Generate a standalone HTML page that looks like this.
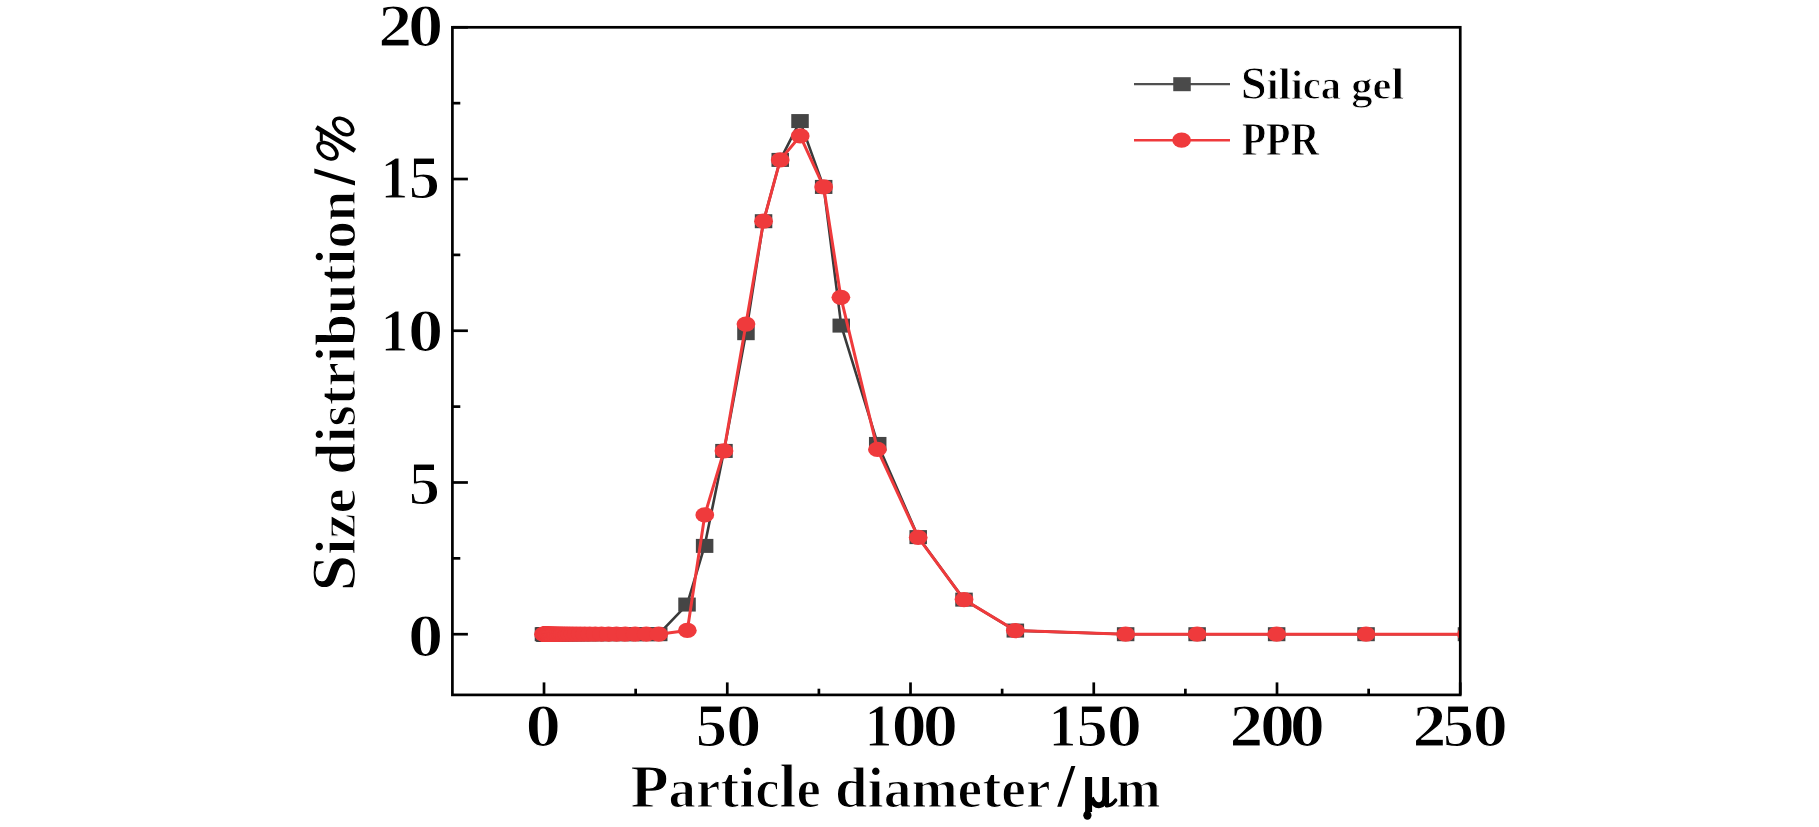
<!DOCTYPE html><html><head><meta charset="utf-8"><title>Size distribution</title><style>html,body{margin:0;padding:0;background:#fff;width:1819px;height:827px;overflow:hidden}svg{display:block}text{font-family:"Liberation Serif",serif;font-weight:bold;fill:#000;stroke-linejoin:round}</style></head><body>
<svg width="1819" height="827" viewBox="0 0 1819 827">
<rect width="1819" height="827" fill="#fff"/>
<defs><clipPath id="c"><rect x="452.40" y="27.30" width="1007.85" height="667.60"/></clipPath></defs>
<g clip-path="url(#c)">
<polyline points="543.47,634.21 544.54,634.21 544.60,634.21 544.67,634.21 544.75,634.21 544.84,634.21 544.93,634.21 545.05,634.21 545.17,634.21 545.31,634.21 545.47,634.21 545.64,634.21 545.84,634.21 546.06,634.21 546.31,634.21 546.59,634.21 546.91,634.21 547.26,634.21 547.65,634.21 548.09,634.21 548.59,634.21 549.15,634.21 549.77,634.21 550.48,634.21 551.26,634.21 552.15,634.21 553.14,634.21 554.25,634.21 555.50,634.21 556.90,634.21 558.47,634.21 560.23,634.21 562.21,634.21 564.43,634.21 566.92,634.21 569.71,634.21 572.84,634.21 576.36,634.21 580.30,634.21 584.73,634.21 589.70,634.21 595.27,634.21 601.52,634.21 608.54,634.21 616.41,634.21 625.24,634.21 635.14,634.21 646.26,634.21 658.73,634.21 687.03,604.56 704.62,545.90 723.97,450.92 745.96,333.18 763.55,221.21 780.23,159.91 800.02,121.07 823.66,186.92 841.25,325.60 877.71,443.94 918.21,537.10 964.02,599.62 1015.33,630.57 1125.64,634.21 1197.11,634.21 1276.64,634.21 1366.06,634.21 1466.48,634.21" fill="none" stroke="#3a3a3a" stroke-width="2.6" stroke-linejoin="round"/>
<rect x="534.72" y="627.21" width="17.5" height="14.0" fill="#454545"/>
<rect x="535.79" y="627.21" width="17.5" height="14.0" fill="#454545"/>
<rect x="535.85" y="627.21" width="17.5" height="14.0" fill="#454545"/>
<rect x="535.92" y="627.21" width="17.5" height="14.0" fill="#454545"/>
<rect x="536.00" y="627.21" width="17.5" height="14.0" fill="#454545"/>
<rect x="536.09" y="627.21" width="17.5" height="14.0" fill="#454545"/>
<rect x="536.18" y="627.21" width="17.5" height="14.0" fill="#454545"/>
<rect x="536.30" y="627.21" width="17.5" height="14.0" fill="#454545"/>
<rect x="536.42" y="627.21" width="17.5" height="14.0" fill="#454545"/>
<rect x="536.56" y="627.21" width="17.5" height="14.0" fill="#454545"/>
<rect x="536.72" y="627.21" width="17.5" height="14.0" fill="#454545"/>
<rect x="536.89" y="627.21" width="17.5" height="14.0" fill="#454545"/>
<rect x="537.09" y="627.21" width="17.5" height="14.0" fill="#454545"/>
<rect x="537.31" y="627.21" width="17.5" height="14.0" fill="#454545"/>
<rect x="537.56" y="627.21" width="17.5" height="14.0" fill="#454545"/>
<rect x="537.84" y="627.21" width="17.5" height="14.0" fill="#454545"/>
<rect x="538.16" y="627.21" width="17.5" height="14.0" fill="#454545"/>
<rect x="538.51" y="627.21" width="17.5" height="14.0" fill="#454545"/>
<rect x="538.90" y="627.21" width="17.5" height="14.0" fill="#454545"/>
<rect x="539.34" y="627.21" width="17.5" height="14.0" fill="#454545"/>
<rect x="539.84" y="627.21" width="17.5" height="14.0" fill="#454545"/>
<rect x="540.40" y="627.21" width="17.5" height="14.0" fill="#454545"/>
<rect x="541.02" y="627.21" width="17.5" height="14.0" fill="#454545"/>
<rect x="541.73" y="627.21" width="17.5" height="14.0" fill="#454545"/>
<rect x="542.51" y="627.21" width="17.5" height="14.0" fill="#454545"/>
<rect x="543.40" y="627.21" width="17.5" height="14.0" fill="#454545"/>
<rect x="544.39" y="627.21" width="17.5" height="14.0" fill="#454545"/>
<rect x="545.50" y="627.21" width="17.5" height="14.0" fill="#454545"/>
<rect x="546.75" y="627.21" width="17.5" height="14.0" fill="#454545"/>
<rect x="548.15" y="627.21" width="17.5" height="14.0" fill="#454545"/>
<rect x="549.72" y="627.21" width="17.5" height="14.0" fill="#454545"/>
<rect x="551.48" y="627.21" width="17.5" height="14.0" fill="#454545"/>
<rect x="553.46" y="627.21" width="17.5" height="14.0" fill="#454545"/>
<rect x="555.68" y="627.21" width="17.5" height="14.0" fill="#454545"/>
<rect x="558.17" y="627.21" width="17.5" height="14.0" fill="#454545"/>
<rect x="560.96" y="627.21" width="17.5" height="14.0" fill="#454545"/>
<rect x="564.09" y="627.21" width="17.5" height="14.0" fill="#454545"/>
<rect x="567.61" y="627.21" width="17.5" height="14.0" fill="#454545"/>
<rect x="571.55" y="627.21" width="17.5" height="14.0" fill="#454545"/>
<rect x="575.98" y="627.21" width="17.5" height="14.0" fill="#454545"/>
<rect x="580.95" y="627.21" width="17.5" height="14.0" fill="#454545"/>
<rect x="586.52" y="627.21" width="17.5" height="14.0" fill="#454545"/>
<rect x="592.77" y="627.21" width="17.5" height="14.0" fill="#454545"/>
<rect x="599.79" y="627.21" width="17.5" height="14.0" fill="#454545"/>
<rect x="607.66" y="627.21" width="17.5" height="14.0" fill="#454545"/>
<rect x="616.49" y="627.21" width="17.5" height="14.0" fill="#454545"/>
<rect x="626.39" y="627.21" width="17.5" height="14.0" fill="#454545"/>
<rect x="637.51" y="627.21" width="17.5" height="14.0" fill="#454545"/>
<rect x="649.98" y="627.21" width="17.5" height="14.0" fill="#454545"/>
<rect x="678.28" y="597.56" width="17.5" height="14.0" fill="#454545"/>
<rect x="695.87" y="538.90" width="17.5" height="14.0" fill="#454545"/>
<rect x="715.22" y="443.92" width="17.5" height="14.0" fill="#454545"/>
<rect x="737.21" y="326.18" width="17.5" height="14.0" fill="#454545"/>
<rect x="754.80" y="214.21" width="17.5" height="14.0" fill="#454545"/>
<rect x="771.48" y="152.91" width="17.5" height="14.0" fill="#454545"/>
<rect x="791.27" y="114.07" width="17.5" height="14.0" fill="#454545"/>
<rect x="814.91" y="179.92" width="17.5" height="14.0" fill="#454545"/>
<rect x="832.50" y="318.60" width="17.5" height="14.0" fill="#454545"/>
<rect x="868.96" y="436.94" width="17.5" height="14.0" fill="#454545"/>
<rect x="909.46" y="530.10" width="17.5" height="14.0" fill="#454545"/>
<rect x="955.27" y="592.62" width="17.5" height="14.0" fill="#454545"/>
<rect x="1006.58" y="623.57" width="17.5" height="14.0" fill="#454545"/>
<rect x="1116.89" y="627.21" width="17.5" height="14.0" fill="#454545"/>
<rect x="1188.36" y="627.21" width="17.5" height="14.0" fill="#454545"/>
<rect x="1267.89" y="627.21" width="17.5" height="14.0" fill="#454545"/>
<rect x="1357.31" y="627.21" width="17.5" height="14.0" fill="#454545"/>
<rect x="1457.73" y="627.21" width="17.5" height="14.0" fill="#454545"/>
<polyline points="543.47,634.21 544.54,634.21 544.60,634.21 544.67,634.21 544.75,634.21 544.84,634.21 544.93,634.21 545.05,634.21 545.17,634.21 545.31,634.21 545.47,634.21 545.64,634.21 545.84,634.21 546.06,634.21 546.31,634.21 546.59,634.21 546.91,634.21 547.26,634.21 547.65,634.21 548.09,634.21 548.59,634.21 549.15,634.21 549.77,634.21 550.48,634.21 551.26,634.21 552.15,634.21 553.14,634.21 554.25,634.21 555.50,634.21 556.90,634.21 558.47,634.21 560.23,634.21 562.21,634.21 564.43,634.21 566.92,634.21 569.71,634.21 572.84,634.21 576.36,634.21 580.30,634.21 584.73,634.21 589.70,634.21 595.27,634.21 601.52,634.21 608.54,634.21 616.41,634.21 625.24,634.21 635.14,634.21 646.26,634.21 658.73,634.21 687.32,630.42 704.80,514.95 723.97,450.92 745.96,324.08 763.55,221.21 780.23,159.91 800.20,135.94 823.66,186.92 840.88,297.37 877.42,449.41 918.21,537.41 964.02,599.62 1015.33,630.57 1125.64,634.21 1197.11,634.21 1276.64,634.21 1366.06,634.21 1466.48,634.21" fill="none" stroke="#ef3a3c" stroke-width="3" stroke-linejoin="round"/>
<ellipse cx="543.47" cy="634.21" rx="9.40" ry="7.60" fill="#ef3a3c"/>
<ellipse cx="544.54" cy="634.21" rx="9.40" ry="7.60" fill="#ef3a3c"/>
<ellipse cx="544.60" cy="634.21" rx="9.40" ry="7.60" fill="#ef3a3c"/>
<ellipse cx="544.67" cy="634.21" rx="9.40" ry="7.60" fill="#ef3a3c"/>
<ellipse cx="544.75" cy="634.21" rx="9.40" ry="7.60" fill="#ef3a3c"/>
<ellipse cx="544.84" cy="634.21" rx="9.40" ry="7.60" fill="#ef3a3c"/>
<ellipse cx="544.93" cy="634.21" rx="9.40" ry="7.60" fill="#ef3a3c"/>
<ellipse cx="545.05" cy="634.21" rx="9.40" ry="7.60" fill="#ef3a3c"/>
<ellipse cx="545.17" cy="634.21" rx="9.40" ry="7.60" fill="#ef3a3c"/>
<ellipse cx="545.31" cy="634.21" rx="9.40" ry="7.60" fill="#ef3a3c"/>
<ellipse cx="545.47" cy="634.21" rx="9.40" ry="7.60" fill="#ef3a3c"/>
<ellipse cx="545.64" cy="634.21" rx="9.40" ry="7.60" fill="#ef3a3c"/>
<ellipse cx="545.84" cy="634.21" rx="9.40" ry="7.60" fill="#ef3a3c"/>
<ellipse cx="546.06" cy="634.21" rx="9.40" ry="7.60" fill="#ef3a3c"/>
<ellipse cx="546.31" cy="634.21" rx="9.40" ry="7.60" fill="#ef3a3c"/>
<ellipse cx="546.59" cy="634.21" rx="9.40" ry="7.60" fill="#ef3a3c"/>
<ellipse cx="546.91" cy="634.21" rx="9.40" ry="7.60" fill="#ef3a3c"/>
<ellipse cx="547.26" cy="634.21" rx="9.40" ry="7.60" fill="#ef3a3c"/>
<ellipse cx="547.65" cy="634.21" rx="9.40" ry="7.60" fill="#ef3a3c"/>
<ellipse cx="548.09" cy="634.21" rx="9.40" ry="7.60" fill="#ef3a3c"/>
<ellipse cx="548.59" cy="634.21" rx="9.40" ry="7.60" fill="#ef3a3c"/>
<ellipse cx="549.15" cy="634.21" rx="9.40" ry="7.60" fill="#ef3a3c"/>
<ellipse cx="549.77" cy="634.21" rx="9.40" ry="7.60" fill="#ef3a3c"/>
<ellipse cx="550.48" cy="634.21" rx="9.40" ry="7.60" fill="#ef3a3c"/>
<ellipse cx="551.26" cy="634.21" rx="9.40" ry="7.60" fill="#ef3a3c"/>
<ellipse cx="552.15" cy="634.21" rx="9.40" ry="7.60" fill="#ef3a3c"/>
<ellipse cx="553.14" cy="634.21" rx="9.40" ry="7.60" fill="#ef3a3c"/>
<ellipse cx="554.25" cy="634.21" rx="9.40" ry="7.60" fill="#ef3a3c"/>
<ellipse cx="555.50" cy="634.21" rx="9.40" ry="7.60" fill="#ef3a3c"/>
<ellipse cx="556.90" cy="634.21" rx="9.40" ry="7.60" fill="#ef3a3c"/>
<ellipse cx="558.47" cy="634.21" rx="9.40" ry="7.60" fill="#ef3a3c"/>
<ellipse cx="560.23" cy="634.21" rx="9.40" ry="7.60" fill="#ef3a3c"/>
<ellipse cx="562.21" cy="634.21" rx="9.40" ry="7.60" fill="#ef3a3c"/>
<ellipse cx="564.43" cy="634.21" rx="9.40" ry="7.60" fill="#ef3a3c"/>
<ellipse cx="566.92" cy="634.21" rx="9.40" ry="7.60" fill="#ef3a3c"/>
<ellipse cx="569.71" cy="634.21" rx="9.40" ry="7.60" fill="#ef3a3c"/>
<ellipse cx="572.84" cy="634.21" rx="9.40" ry="7.60" fill="#ef3a3c"/>
<ellipse cx="576.36" cy="634.21" rx="9.40" ry="7.60" fill="#ef3a3c"/>
<ellipse cx="580.30" cy="634.21" rx="9.40" ry="7.60" fill="#ef3a3c"/>
<ellipse cx="584.73" cy="634.21" rx="9.40" ry="7.60" fill="#ef3a3c"/>
<ellipse cx="589.70" cy="634.21" rx="9.40" ry="7.60" fill="#ef3a3c"/>
<ellipse cx="595.27" cy="634.21" rx="9.40" ry="7.60" fill="#ef3a3c"/>
<ellipse cx="601.52" cy="634.21" rx="9.40" ry="7.60" fill="#ef3a3c"/>
<ellipse cx="608.54" cy="634.21" rx="9.40" ry="7.60" fill="#ef3a3c"/>
<ellipse cx="616.41" cy="634.21" rx="9.40" ry="7.60" fill="#ef3a3c"/>
<ellipse cx="625.24" cy="634.21" rx="9.40" ry="7.60" fill="#ef3a3c"/>
<ellipse cx="635.14" cy="634.21" rx="9.40" ry="7.60" fill="#ef3a3c"/>
<ellipse cx="646.26" cy="634.21" rx="9.40" ry="7.60" fill="#ef3a3c"/>
<ellipse cx="658.73" cy="634.21" rx="9.40" ry="7.60" fill="#ef3a3c"/>
<ellipse cx="687.32" cy="630.42" rx="9.40" ry="7.60" fill="#ef3a3c"/>
<ellipse cx="704.80" cy="514.95" rx="9.40" ry="7.60" fill="#ef3a3c"/>
<ellipse cx="723.97" cy="450.92" rx="9.40" ry="7.60" fill="#ef3a3c"/>
<ellipse cx="745.96" cy="324.08" rx="9.40" ry="7.60" fill="#ef3a3c"/>
<ellipse cx="763.55" cy="221.21" rx="9.40" ry="7.60" fill="#ef3a3c"/>
<ellipse cx="780.23" cy="159.91" rx="9.40" ry="7.60" fill="#ef3a3c"/>
<ellipse cx="800.20" cy="135.94" rx="9.40" ry="7.60" fill="#ef3a3c"/>
<ellipse cx="823.66" cy="186.92" rx="9.40" ry="7.60" fill="#ef3a3c"/>
<ellipse cx="840.88" cy="297.37" rx="9.40" ry="7.60" fill="#ef3a3c"/>
<ellipse cx="877.42" cy="449.41" rx="9.40" ry="7.60" fill="#ef3a3c"/>
<ellipse cx="918.21" cy="537.41" rx="9.40" ry="7.60" fill="#ef3a3c"/>
<ellipse cx="964.02" cy="599.62" rx="9.40" ry="7.60" fill="#ef3a3c"/>
<ellipse cx="1015.33" cy="630.57" rx="9.40" ry="7.60" fill="#ef3a3c"/>
<ellipse cx="1125.64" cy="634.21" rx="9.40" ry="7.60" fill="#ef3a3c"/>
<ellipse cx="1197.11" cy="634.21" rx="9.40" ry="7.60" fill="#ef3a3c"/>
<ellipse cx="1276.64" cy="634.21" rx="9.40" ry="7.60" fill="#ef3a3c"/>
<ellipse cx="1366.06" cy="634.21" rx="9.40" ry="7.60" fill="#ef3a3c"/>
<ellipse cx="1466.48" cy="634.21" rx="9.40" ry="7.60" fill="#ef3a3c"/>
</g>
<rect x="452.40" y="27.30" width="1007.85" height="667.60" fill="none" stroke="#000" stroke-width="2.70"/>
<line x1="544.02" y1="694.90" x2="544.02" y2="682.40" stroke="#000" stroke-width="2.70"/>
<line x1="635.65" y1="694.90" x2="635.65" y2="688.70" stroke="#000" stroke-width="2.70"/>
<line x1="727.27" y1="694.90" x2="727.27" y2="682.40" stroke="#000" stroke-width="2.70"/>
<line x1="818.89" y1="694.90" x2="818.89" y2="688.70" stroke="#000" stroke-width="2.70"/>
<line x1="910.51" y1="694.90" x2="910.51" y2="682.40" stroke="#000" stroke-width="2.70"/>
<line x1="1002.14" y1="694.90" x2="1002.14" y2="688.70" stroke="#000" stroke-width="2.70"/>
<line x1="1093.76" y1="694.90" x2="1093.76" y2="682.40" stroke="#000" stroke-width="2.70"/>
<line x1="1185.38" y1="694.90" x2="1185.38" y2="688.70" stroke="#000" stroke-width="2.70"/>
<line x1="1277.00" y1="694.90" x2="1277.00" y2="682.40" stroke="#000" stroke-width="2.70"/>
<line x1="1368.63" y1="694.90" x2="1368.63" y2="688.70" stroke="#000" stroke-width="2.70"/>
<line x1="1460.25" y1="694.90" x2="1460.25" y2="682.40" stroke="#000" stroke-width="2.70"/>
<line x1="452.40" y1="634.21" x2="467.90" y2="634.21" stroke="#000" stroke-width="2.70"/>
<line x1="452.40" y1="558.35" x2="460.30" y2="558.35" stroke="#000" stroke-width="2.70"/>
<line x1="452.40" y1="482.48" x2="467.90" y2="482.48" stroke="#000" stroke-width="2.70"/>
<line x1="452.40" y1="406.62" x2="460.30" y2="406.62" stroke="#000" stroke-width="2.70"/>
<line x1="452.40" y1="330.75" x2="467.90" y2="330.75" stroke="#000" stroke-width="2.70"/>
<line x1="452.40" y1="254.89" x2="460.30" y2="254.89" stroke="#000" stroke-width="2.70"/>
<line x1="452.40" y1="179.03" x2="467.90" y2="179.03" stroke="#000" stroke-width="2.70"/>
<line x1="452.40" y1="103.16" x2="460.30" y2="103.16" stroke="#000" stroke-width="2.70"/>
<line x1="452.40" y1="27.30" x2="467.90" y2="27.30" stroke="#000" stroke-width="2.70"/>
<line x1="1134" y1="84.2" x2="1230" y2="84.2" stroke="#505050" stroke-width="2.3"/>
<rect x="1173.25" y="77.20" width="17.5" height="14.0" fill="#4a4a4a"/>
<line x1="1134" y1="140.2" x2="1230" y2="140.2" stroke="#ef3a3c" stroke-width="2.5"/>
<ellipse cx="1181.6" cy="140.1" rx="9.40" ry="7.60" fill="#ef3a3c"/>
<g style="filter:grayscale(1)">
<text transform="translate(525.62,745.78) scale(1.1644,1)" stroke="#fff" stroke-width="1.20"><tspan font-size="60.88" font-weight="bold">0</tspan></text>
<text transform="translate(695.68,745.78) scale(1.0291,1)" stroke="#fff" stroke-width="1.20"><tspan font-size="60.90" font-weight="bold">5</tspan></text>
<text transform="translate(725.91,745.78) scale(1.1683,1)" stroke="#fff" stroke-width="1.20"><tspan font-size="60.88" font-weight="bold">0</tspan></text>
<text transform="translate(864.86,745.80) scale(0.9063,1)" stroke="#fff" stroke-width="1.20"><tspan font-size="60.92" font-weight="bold">1</tspan></text>
<text transform="translate(891.53,745.78) scale(1.1605,1)" stroke="#fff" stroke-width="1.20"><tspan font-size="60.88" font-weight="bold">0</tspan></text>
<text transform="translate(922.73,745.78) scale(1.1605,1)" stroke="#fff" stroke-width="1.20"><tspan font-size="60.88" font-weight="bold">0</tspan></text>
<text transform="translate(1048.86,745.80) scale(0.9062,1)" stroke="#fff" stroke-width="1.20"><tspan font-size="60.92" font-weight="bold">1</tspan></text>
<text transform="translate(1076.81,745.78) scale(1.0175,1)" stroke="#fff" stroke-width="1.20"><tspan font-size="60.90" font-weight="bold">5</tspan></text>
<text transform="translate(1106.73,745.78) scale(1.1605,1)" stroke="#fff" stroke-width="1.20"><tspan font-size="60.88" font-weight="bold">0</tspan></text>
<text transform="translate(1229.47,745.80) scale(1.1107,1)" stroke="#fff" stroke-width="1.20"><tspan font-size="60.91" font-weight="bold">2</tspan></text>
<text transform="translate(1259.95,745.78) scale(1.1528,1)" stroke="#fff" stroke-width="1.20"><tspan font-size="60.88" font-weight="bold">0</tspan></text>
<text transform="translate(1289.64,745.78) scale(1.1567,1)" stroke="#fff" stroke-width="1.20"><tspan font-size="60.88" font-weight="bold">0</tspan></text>
<text transform="translate(1412.46,745.80) scale(1.1146,1)" stroke="#fff" stroke-width="1.20"><tspan font-size="60.91" font-weight="bold">2</tspan></text>
<text transform="translate(1442.91,745.78) scale(1.0175,1)" stroke="#fff" stroke-width="1.20"><tspan font-size="60.90" font-weight="bold">5</tspan></text>
<text transform="translate(1472.84,745.78) scale(1.1567,1)" stroke="#fff" stroke-width="1.20"><tspan font-size="60.88" font-weight="bold">0</tspan></text>
<text transform="translate(378.36,45.80) scale(1.1146,1)" stroke="#fff" stroke-width="1.20"><tspan font-size="60.91" font-weight="bold">2</tspan></text>
<text transform="translate(407.93,45.78) scale(1.1605,1)" stroke="#fff" stroke-width="1.20"><tspan font-size="60.88" font-weight="bold">0</tspan></text>
<text transform="translate(380.78,197.90) scale(0.9018,1)" stroke="#fff" stroke-width="1.20"><tspan font-size="60.92" font-weight="bold">1</tspan></text>
<text transform="translate(408.79,197.88) scale(1.0252,1)" stroke="#fff" stroke-width="1.20"><tspan font-size="60.90" font-weight="bold">5</tspan></text>
<text transform="translate(380.78,350.80) scale(0.9018,1)" stroke="#fff" stroke-width="1.20"><tspan font-size="60.92" font-weight="bold">1</tspan></text>
<text transform="translate(407.93,350.78) scale(1.1605,1)" stroke="#fff" stroke-width="1.20"><tspan font-size="60.88" font-weight="bold">0</tspan></text>
<text transform="translate(408.79,503.68) scale(1.0252,1)" stroke="#fff" stroke-width="1.20"><tspan font-size="60.90" font-weight="bold">5</tspan></text>
<text transform="translate(407.93,655.78) scale(1.1605,1)" stroke="#fff" stroke-width="1.20"><tspan font-size="60.88" font-weight="bold">0</tspan></text>
<text transform="translate(630.45,807.28) scale(1.0037,1)" stroke="#fff" stroke-width="1.20"><tspan font-size="62.26" font-weight="bold">P</tspan><tspan font-size="54.54" font-weight="bold">ar</tspan><tspan font-size="56.61" font-weight="bold">t</tspan><tspan font-size="57.65" font-weight="bold">i</tspan><tspan font-size="54.54" font-weight="bold">c</tspan><tspan font-size="60.33" font-weight="bold">l</tspan><tspan font-size="54.54" font-weight="bold">e</tspan></text>
<text transform="translate(834.92,807.28) scale(1.0144,1)" stroke="#fff" stroke-width="1.20"><tspan font-size="57.73" font-weight="bold">di</tspan><tspan font-size="54.61" font-weight="bold">ame</tspan><tspan font-size="56.69" font-weight="bold">t</tspan><tspan font-size="54.61" font-weight="bold">er</tspan></text>
<text transform="translate(1116.15,807.30) scale(0.9677,1)" stroke="#fff" stroke-width="1.20"><tspan font-size="55.05" font-weight="bold">m</tspan></text>
<text transform="translate(355.08,591.61) rotate(-90) scale(1.0480,1)" stroke="#fff" stroke-width="1.20"><tspan font-size="62.79" font-weight="bold">S</tspan><tspan font-size="56.90" font-weight="bold">i</tspan><tspan font-size="53.83" font-weight="bold">ze</tspan></text>
<text transform="translate(355.08,474.73) rotate(-90) scale(1.0139,1)" stroke="#fff" stroke-width="1.20"><tspan font-size="56.98" font-weight="bold">di</tspan><tspan font-size="53.91" font-weight="bold">s</tspan><tspan font-size="55.96" font-weight="bold">t</tspan><tspan font-size="53.91" font-weight="bold">r</tspan><tspan font-size="56.98" font-weight="bold">ib</tspan><tspan font-size="53.91" font-weight="bold">u</tspan><tspan font-size="55.96" font-weight="bold">t</tspan><tspan font-size="56.98" font-weight="bold">i</tspan><tspan font-size="53.91" font-weight="bold">on</tspan></text>
<text transform="translate(1240.76,99.24) scale(1.0173,1)" stroke="#fff" stroke-width="0.90"><tspan font-size="45.73" font-weight="bold">S</tspan><tspan font-size="42.02" font-weight="bold">i</tspan><tspan font-size="43.97" font-weight="bold">l</tspan><tspan font-size="42.02" font-weight="bold">i</tspan><tspan font-size="39.75" font-weight="bold">ca</tspan></text>
<text transform="translate(1351.22,99.05) scale(1.0766,1)" stroke="#fff" stroke-width="0.90"><tspan font-size="39.51" font-weight="bold">ge</tspan><tspan font-size="43.70" font-weight="bold">l</tspan></text>
<text transform="translate(1241.75,155.35) scale(0.8720,1)" stroke="#fff" stroke-width="0.90"><tspan font-size="45.67" font-weight="bold">PPR</tspan></text>
</g>
<polygon points="1071.3,766 1075.4,766 1061.5,806.7 1057.2,806.7" fill="#000"/>
<polygon points="314.3,168.6 314.3,173.2 355,185.6 355,181" fill="#000"/>
<g fill="none" stroke="#000"><ellipse cx="343.2" cy="126.5" rx="10.6" ry="6.7" transform="rotate(36 343.2 126.5)" stroke-width="3.6"/><ellipse cx="327.5" cy="150.7" rx="10.6" ry="6.7" transform="rotate(36 327.5 150.7)" stroke-width="3.6"/><line x1="316.3" y1="127.2" x2="355" y2="150.8" stroke-width="4.6"/><line x1="321.3" y1="131" x2="321.3" y2="141" stroke-width="3"/></g>
<g fill="none" stroke="#000"><path d="M1088.6,777V812" stroke-width="7"/><path d="M1105.7,777V804" stroke-width="6.7"/><path d="M1091,798Q1094.5,806 1099.8,805.2Q1104.5,804.4 1105.7,797" stroke-width="5.8"/><path d="M1106.5,805.6Q1111.5,806 1115.6,800.2" stroke-width="3.6" stroke-linecap="round"/></g><ellipse cx="1087.4" cy="815.2" rx="4.1" ry="4.6" fill="#000"/>
</svg></body></html>
